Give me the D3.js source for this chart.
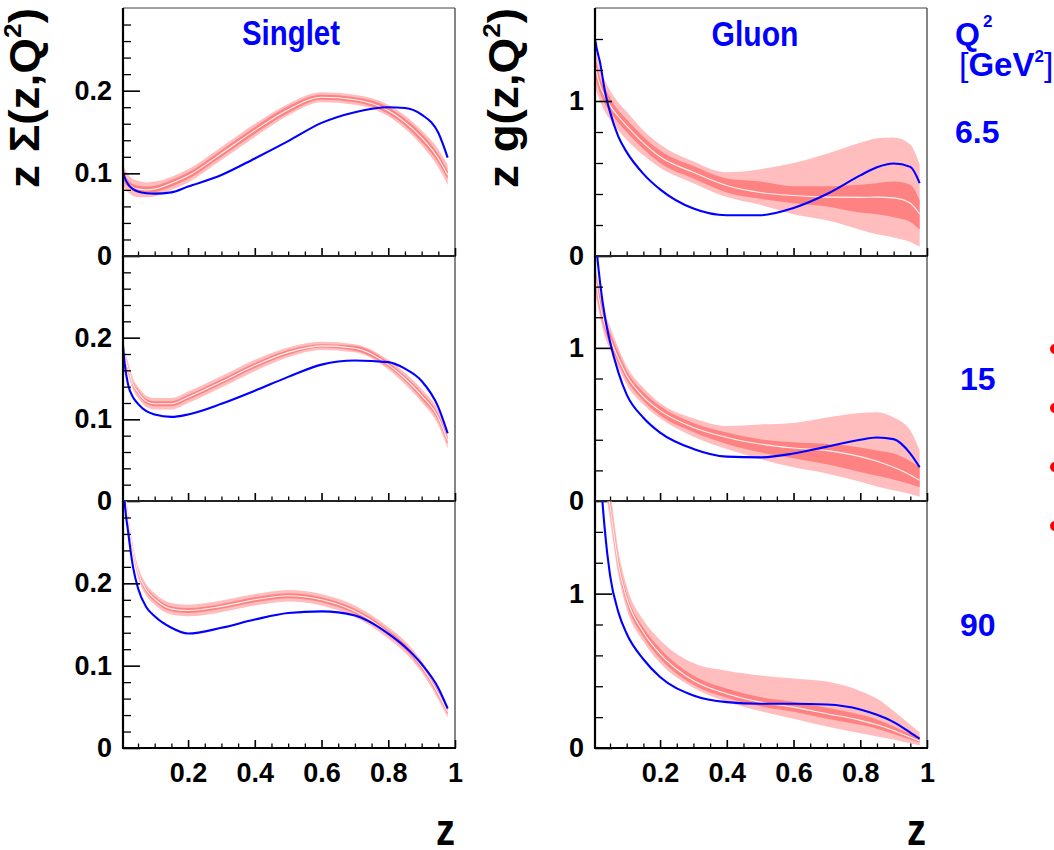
<!DOCTYPE html>
<html><head><meta charset="utf-8">
<script src="https://cdn.jsdelivr.net/npm/d3@7"></script>
<style>
body{margin:0;background:#fff;}
svg text{font-family:"Liberation Sans",Arial,Helvetica,sans-serif;font-weight:bold;}
</style></head><body>
<svg id="c" width="1054" height="850"></svg>
<script>
// ---------------- data ----------------
const zGrid = [0.005, 0.01, 0.02, 0.035, 0.05, 0.075, 0.1, 0.15, 0.2, 0.3, 0.4, 0.5, 0.6, 0.7, 0.8, 0.85, 0.9, 0.95, 0.978];
const q2Labels = ["6.5", "15", "90"];
const panelTitles = ["Singlet", "Gluon"];

// Singlet, Q2 = 6.5
const sig65Blue    = [0.102,0.095,0.087,0.081,0.078,0.076,0.0755,0.077,0.084,0.098,0.118,0.139,0.161,0.174,0.180,0.179,0.171,0.149,0.119];
const sig65Central = [0.100,0.094,0.088,0.083,0.081,0.080,0.081,0.088,0.097,0.124,0.152,0.177,0.192,0.189,0.176,0.162,0.143,0.118,0.098];
const sig65OuterLo = [0.088,0.082,0.077,0.073,0.071,0.071,0.072,0.080,0.089,0.116,0.144,0.170,0.186,0.183,0.169,0.154,0.134,0.107,0.086];
const sig65OuterHi = [0.112,0.106,0.099,0.093,0.091,0.089,0.090,0.096,0.105,0.132,0.160,0.184,0.198,0.195,0.183,0.170,0.152,0.129,0.110];
const sig65InnerLo = [0.095,0.089,0.084,0.079,0.077,0.076,0.077,0.084,0.093,0.120,0.148,0.173,0.189,0.186,0.172,0.158,0.138,0.113,0.093];
const sig65InnerHi = [0.105,0.099,0.092,0.087,0.085,0.084,0.085,0.092,0.101,0.128,0.156,0.181,0.195,0.192,0.180,0.166,0.148,0.123,0.103];

// Singlet, Q2 = 15
const sig15Blue    = [0.190,0.168,0.143,0.127,0.119,0.110,0.106,0.103,0.106,0.119,0.135,0.152,0.167,0.172,0.170,0.162,0.147,0.115,0.083];
const sig15Central = [0.195,0.178,0.163,0.143,0.133,0.122,0.119,0.119,0.127,0.146,0.166,0.182,0.190,0.187,0.167,0.150,0.129,0.102,0.074];
const sig15OuterLo = [0.184,0.169,0.155,0.136,0.126,0.115,0.112,0.112,0.120,0.139,0.159,0.176,0.185,0.182,0.161,0.143,0.121,0.093,0.064];
const sig15OuterHi = [0.206,0.187,0.171,0.150,0.140,0.129,0.126,0.126,0.134,0.153,0.173,0.188,0.195,0.192,0.173,0.157,0.137,0.111,0.084];
const sig15InnerLo = [0.191,0.175,0.160,0.140,0.130,0.119,0.116,0.116,0.124,0.143,0.163,0.179,0.188,0.184,0.164,0.147,0.125,0.098,0.070];
const sig15InnerHi = [0.199,0.181,0.166,0.146,0.136,0.125,0.122,0.122,0.130,0.149,0.169,0.185,0.192,0.190,0.170,0.153,0.133,0.106,0.078];

// Singlet, Q2 = 90
const sig90Blue    = [0.340,0.300,0.264,0.220,0.194,0.171,0.160,0.146,0.139,0.146,0.156,0.164,0.166,0.161,0.139,0.123,0.102,0.073,0.048];
const sig90Central = [0.360,0.320,0.280,0.240,0.214,0.192,0.181,0.169,0.167,0.172,0.180,0.185,0.180,0.166,0.140,0.123,0.099,0.066,0.044];
const sig90OuterLo = [0.350,0.311,0.272,0.233,0.207,0.185,0.174,0.162,0.160,0.165,0.173,0.178,0.173,0.159,0.133,0.116,0.092,0.059,0.037];
const sig90OuterHi = [0.370,0.329,0.288,0.247,0.221,0.199,0.188,0.176,0.174,0.179,0.187,0.192,0.187,0.173,0.147,0.130,0.106,0.073,0.051];
const sig90InnerLo = [0.357,0.317,0.277,0.237,0.211,0.189,0.178,0.166,0.164,0.169,0.177,0.182,0.177,0.163,0.137,0.120,0.096,0.063,0.041];
const sig90InnerHi = [0.363,0.323,0.283,0.243,0.217,0.195,0.184,0.172,0.170,0.175,0.183,0.188,0.183,0.169,0.143,0.126,0.102,0.069,0.047];

// Gluon, Q2 = 6.5
const glu65Blue    = [1.40,1.34,1.25,1.06,0.93,0.77,0.67,0.53,0.43,0.306,0.263,0.263,0.31,0.40,0.52,0.573,0.597,0.575,0.47];
const glu65Central = [1.23,1.18,1.10,1.03,0.97,0.90,0.84,0.73,0.64,0.54,0.455,0.41,0.39,0.38,0.378,0.38,0.375,0.34,0.27];
const glu65OuterLo = [1.10,1.06,1.00,0.93,0.88,0.81,0.75,0.65,0.57,0.47,0.38,0.33,0.27,0.23,0.17,0.14,0.12,0.09,0.06];
const glu65OuterHi = [1.36,1.30,1.21,1.13,1.07,0.99,0.93,0.81,0.72,0.61,0.54,0.56,0.60,0.66,0.73,0.76,0.765,0.72,0.59];
const glu65InnerLo = [1.17,1.12,1.05,0.98,0.93,0.86,0.80,0.69,0.60,0.50,0.41,0.37,0.34,0.32,0.28,0.27,0.25,0.22,0.17];
const glu65InnerHi = [1.29,1.24,1.15,1.08,1.02,0.94,0.88,0.77,0.68,0.58,0.50,0.48,0.45,0.45,0.46,0.47,0.48,0.46,0.36];

// Gluon, Q2 = 15
const glu15Blue    = [1.78,1.64,1.43,1.20,1.04,0.84,0.695,0.544,0.447,0.34,0.29,0.285,0.31,0.355,0.40,0.415,0.404,0.31,0.22];
const glu15Central = [1.47,1.40,1.28,1.15,1.06,0.93,0.82,0.68,0.59,0.48,0.415,0.372,0.346,0.329,0.29,0.26,0.22,0.17,0.135];
const glu15OuterLo = [1.38,1.31,1.20,1.07,0.99,0.87,0.76,0.63,0.54,0.42,0.34,0.275,0.22,0.18,0.125,0.095,0.07,0.045,0.028];
const glu15OuterHi = [1.56,1.49,1.37,1.23,1.14,1.00,0.88,0.74,0.64,0.54,0.49,0.50,0.51,0.545,0.575,0.58,0.545,0.46,0.33];
const glu15InnerLo = [1.42,1.35,1.24,1.11,1.02,0.90,0.79,0.655,0.56,0.45,0.372,0.318,0.28,0.24,0.19,0.165,0.14,0.11,0.09];
const glu15InnerHi = [1.52,1.45,1.33,1.19,1.10,0.97,0.85,0.71,0.62,0.51,0.447,0.404,0.383,0.372,0.35,0.33,0.31,0.26,0.22];

// Gluon, Q2 = 90
const glu90Blue    = [2.9,2.4,1.85,1.40,1.12,0.88,0.74,0.575,0.46,0.34,0.297,0.287,0.287,0.282,0.25,0.215,0.168,0.10,0.06];
const glu90Central = [3.2,2.7,2.1,1.8,1.57,1.19,0.97,0.75,0.61,0.437,0.351,0.297,0.265,0.222,0.179,0.15,0.114,0.07,0.045];
const glu90OuterLo = [3.1,2.6,2.0,1.7,1.48,1.12,0.90,0.69,0.55,0.39,0.30,0.24,0.19,0.14,0.095,0.075,0.055,0.03,0.017];
const glu90OuterHi = [3.3,2.8,2.2,1.9,1.68,1.28,1.05,0.83,0.70,0.55,0.50,0.47,0.45,0.43,0.37,0.32,0.24,0.15,0.10];
const glu90InnerLo = [3.15,2.65,2.05,1.75,1.53,1.16,0.94,0.72,0.58,0.41,0.325,0.27,0.235,0.19,0.15,0.125,0.09,0.055,0.035];
const glu90InnerHi = [3.25,2.75,2.15,1.85,1.62,1.23,1.0,0.78,0.645,0.47,0.385,0.33,0.30,0.26,0.215,0.185,0.14,0.09,0.06];

// axes
const zDomain = [0.005, 1];
const xTicks = [0.2, 0.4, 0.6, 0.8, 1];
const xTickLabels = ["0.2", "0.4", "0.6", "0.8", "1"];
const xMinorTicks = [0.05,0.1,0.15,0.25,0.3,0.35,0.45,0.5,0.55,0.65,0.7,0.75,0.85,0.9,0.95];
const sigmaDomain = [0, 0.3];
const sigmaTicks = [0, 0.1, 0.2];
const sigmaTickLabels = ["0", "0.1", "0.2"];
const sigmaMinorTicks = [0.02,0.04,0.06,0.08,0.12,0.14,0.16,0.18,0.22,0.24,0.26,0.28];
const gluonDomain = [0, 1.6];
const gluonTicks = [0, 1];
const gluonTickLabels = ["0", "1"];
const gluonMinorTicks = [0.2,0.4,0.6,0.8,1.2,1.4];
const legendMarkers = ["m1", "m2", "m3", "m4"];

// ---------------- layout ----------------
const svg = d3.select("#c");
const colX = [[123, 455], [595, 927]];
const rowY = [[8, 256], [256, 501], [501, 748]];
const BLUE = "#0000ff";

const panels = [
  {col:0,row:0,dom:sigmaDomain,blue:sig65Blue,c:sig65Central,oLo:sig65OuterLo,oHi:sig65OuterHi,iLo:sig65InnerLo,iHi:sig65InnerHi},
  {col:0,row:1,dom:sigmaDomain,blue:sig15Blue,c:sig15Central,oLo:sig15OuterLo,oHi:sig15OuterHi,iLo:sig15InnerLo,iHi:sig15InnerHi},
  {col:0,row:2,dom:sigmaDomain,blue:sig90Blue,c:sig90Central,oLo:sig90OuterLo,oHi:sig90OuterHi,iLo:sig90InnerLo,iHi:sig90InnerHi},
  {col:1,row:0,dom:gluonDomain,blue:glu65Blue,c:glu65Central,oLo:glu65OuterLo,oHi:glu65OuterHi,iLo:glu65InnerLo,iHi:glu65InnerHi},
  {col:1,row:1,dom:gluonDomain,blue:glu15Blue,c:glu15Central,oLo:glu15OuterLo,oHi:glu15OuterHi,iLo:glu15InnerLo,iHi:glu15InnerHi},
  {col:1,row:2,dom:gluonDomain,blue:glu90Blue,c:glu90Central,oLo:glu90OuterLo,oHi:glu90OuterHi,iLo:glu90InnerLo,iHi:glu90InnerHi}
];

const defs = svg.append("defs");

panels.forEach((p, i) => {
  const [x0, x1] = colX[p.col];
  const [y0, y1] = rowY[p.row];
  const x = d3.scaleLinear().domain(zDomain).range([x0, x1]);
  const y = d3.scaleLinear().domain(p.dom).range([y1, y0]);
  defs.append("clipPath").attr("id", "clip" + i).append("rect")
    .attr("x", x0).attr("y", y0).attr("width", x1 - x0).attr("height", y1 - y0);
  const g = svg.append("g").attr("clip-path", `url(#clip${i})`);
  const idx = d3.range(zGrid.length);
  const band = (lo, hi) => d3.area().curve(d3.curveMonotoneX)
    .x(j => x(zGrid[j])).y0(j => y(lo[j])).y1(j => y(hi[j]));
  const line = arr => d3.line().curve(d3.curveMonotoneX)
    .x(j => x(zGrid[j])).y(j => y(arr[j]));
  g.append("path").attr("d", band(p.oLo, p.oHi)(idx)).attr("fill", "#ffbdbd");
  g.append("path").attr("d", band(p.iLo, p.iHi)(idx)).attr("fill", "#ff8282");
  g.append("path").attr("d", line(p.c)(idx)).attr("fill", "none").attr("stroke", "#fff3f3").attr("stroke-width", 1.1);
  g.append("path").attr("d", line(p.blue)(idx)).attr("fill", "none").attr("stroke", BLUE).attr("stroke-width", 2.1);

  // frame: thin top/right
  svg.append("line").attr("x1", x0).attr("x2", x1).attr("y1", y0).attr("y2", y0).attr("stroke", "#444").attr("stroke-width", 1);
  svg.append("line").attr("x1", x1).attr("x2", x1).attr("y1", y0).attr("y2", y1).attr("stroke", "#444").attr("stroke-width", 1.3);

  const isSig = p.col === 0;
  const majT = isSig ? sigmaTicks : gluonTicks;
  const majL = isSig ? sigmaTickLabels : gluonTickLabels;
  const minT = isSig ? sigmaMinorTicks : gluonMinorTicks;

  // y axis major
  const ya = svg.append("g").attr("transform", `translate(${x0},0)`)
    .call(d3.axisLeft(y).tickValues(majT).tickSize(-17).tickPadding(11)
      .tickFormat((d, k) => majL[k]));
  ya.select(".domain").remove();
  ya.selectAll("line").attr("stroke", "#000").attr("stroke-width", 1.6);
  ya.selectAll("text").attr("font-size", 27).attr("fill", "#000")
    .style("font-family", '"Liberation Sans",Arial,sans-serif').style("font-weight", "bold");
  // y axis minor
  const ym = svg.append("g").attr("transform", `translate(${x0},0)`)
    .call(d3.axisLeft(y).tickValues(minT).tickSize(-8).tickFormat(""));
  ym.select(".domain").remove();
  ym.selectAll("line").attr("stroke", "#000").attr("stroke-width", 1.3);

  // x axis major
  const xa = svg.append("g").attr("transform", `translate(0,${y1})`)
    .call(d3.axisBottom(x).tickValues(xTicks).tickSize(-8).tickPadding(15)
      .tickFormat((d, k) => p.row === 2 ? xTickLabels[k] : ""));
  xa.select(".domain").remove();
  xa.selectAll("line").attr("stroke", "#000").attr("stroke-width", 1.6);
  xa.selectAll("text").attr("font-size", 27).attr("fill", "#000")
    .style("font-family", '"Liberation Sans",Arial,sans-serif').style("font-weight", "bold");
  const xm = svg.append("g").attr("transform", `translate(0,${y1})`)
    .call(d3.axisBottom(x).tickValues(xMinorTicks).tickSize(-4.5).tickFormat(""));
  xm.select(".domain").remove();
  xm.selectAll("line").attr("stroke", "#000").attr("stroke-width", 1.3);

  // thick left/bottom axis lines
  svg.append("line").attr("x1", x0).attr("x2", x0).attr("y1", y0).attr("y2", y1 + 1).attr("stroke", "#000").attr("stroke-width", 2.2);
  svg.append("line").attr("x1", x0 - 1).attr("x2", x1 + 1).attr("y1", y1).attr("y2", y1).attr("stroke", "#000").attr("stroke-width", 2.2);
});

// ---------------- texts ----------------
function txt(x, y, s, size, opts = {}) {
  const t = svg.append("text").attr("x", x).attr("y", y).attr("font-size", size)
    .attr("fill", opts.fill || "#000").attr("text-anchor", opts.anchor || "start").text(s);
  if (opts.len) t.attr("textLength", opts.len).attr("lengthAdjust", "spacingAndGlyphs");
  return t;
}
// panel titles
txt(291, 45, panelTitles[0], 35, {fill: BLUE, anchor: "middle", len: 98});
txt(755, 46, panelTitles[1], 35, {fill: BLUE, anchor: "middle", len: 87});

// y axis titles (rotated)
function yTitle(bx, startY, pre, len) {
  const t = svg.append("text").attr("transform", `translate(${bx},${startY}) rotate(-90)`)
    .attr("font-size", 42).attr("fill", "#000")
    .attr("textLength", len).attr("lengthAdjust", "spacingAndGlyphs");
  t.append("tspan").text(pre);
  t.append("tspan").attr("font-size", 24).attr("dy", -18).text("2");
  t.append("tspan").attr("dy", 18).text(")");
}
yTitle(39, 188, "z \u03A3(z,Q", 180);
yTitle(518, 188, "z g(z,Q", 180);

// x axis titles
txt(455, 845, "z", 44, {anchor: "end", len: 19});
txt(926, 845, "z", 44, {anchor: "end", len: 19});

// Q2 legend
txt(955, 45, "Q", 32, {fill: BLUE});
txt(983, 27, "2", 17, {fill: BLUE});
const gev = svg.append("text").attr("x", 959).attr("y", 76).attr("font-size", 33).attr("fill", BLUE);
gev.append("tspan").style("font-weight", "normal").attr("font-size", 34).text("[");
gev.append("tspan").text("GeV");
gev.append("tspan").attr("font-size", 17).attr("dy", -14).text("2");
gev.append("tspan").attr("dy", 14).style("font-weight", "normal").attr("font-size", 34).text("]");

const q2Pos = [[955, 143], [960, 390], [960, 636]];
q2Labels.forEach((s, k) => txt(q2Pos[k][0], q2Pos[k][1], s, 32, {fill: BLUE}));

// partially visible legend markers at the right edge
const markerY = d3.scalePoint().domain(legendMarkers).range([349, 526]);
svg.selectAll("circle.lm").data(legendMarkers).enter().append("circle")
  .attr("class", "lm").attr("cx", 1055).attr("cy", d => markerY(d)).attr("r", 5).attr("fill", "#ff0000");
</script>
</body></html>
